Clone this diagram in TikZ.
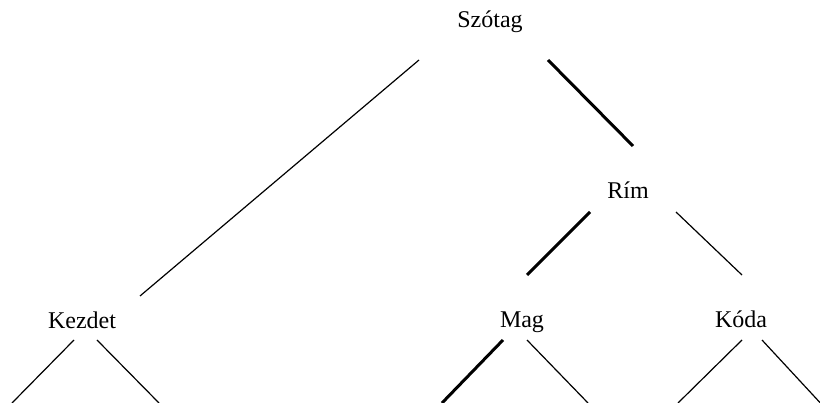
\documentclass[tikz,border=0pt]{standalone}
\usepackage{fontspec}
\setmainfont{Liberation Serif}
\begin{document}
\begin{tikzpicture}[x=1pt,y=-1pt,
  lbl/.style={anchor=base,inner sep=0pt,font=\fontsize{24}{28}\selectfont},
  thinline/.style={line width=1.2pt},
  thickline/.style={line width=3pt}]
\useasboundingbox (0,0) rectangle (820,403);
\clip (0,0) rectangle (820,403);
% labels
\node[lbl] (szotag) at (490,28) {Szótag};
\node[lbl] (rim) at (628,199) {Rím};
\node[lbl] (kezdet) at (82,329) {Kezdet};
\node[lbl] (mag) at (522,328) {Mag};
\node[lbl] (koda) at (741,328) {Kóda};
% line ends
\coordinate (sL) at (419,60);
\coordinate (sR) at (548,60);
\coordinate (kT) at (140,296);
\coordinate (rT) at (633,146);
\coordinate (rL) at (590,212);
\coordinate (rR) at (676,212);
\coordinate (mT) at (527,275);
\coordinate (oT) at (742,275);
\coordinate (kL) at (74,340);
\coordinate (kR) at (97,340);
\coordinate (kLb) at (12,403);
\coordinate (kRb) at (159,403);
\coordinate (mL) at (503,340);
\coordinate (mR) at (527,340);
\coordinate (mLb) at (442,403);
\coordinate (mRb) at (588,403);
\coordinate (oL) at (742,340);
\coordinate (oR) at (762,340);
\coordinate (oLb) at (678,403);
\coordinate (oRb) at (825,408);
% connectors
\draw[thinline] (sL) -- (kT);
\draw[thickline] (sR) -- (rT);
\draw[thickline] (rL) -- (mT);
\draw[thinline] (rR) -- (oT);
\draw[thinline] (kL) -- (kLb);
\draw[thinline] (kR) -- (kRb);
\draw[thickline] (mL) -- (mLb);
\draw[thinline] (mR) -- (mRb);
\draw[thinline] (oL) -- (oLb);
\draw[thinline] (oR) -- (oRb);
\end{tikzpicture}
\end{document}
